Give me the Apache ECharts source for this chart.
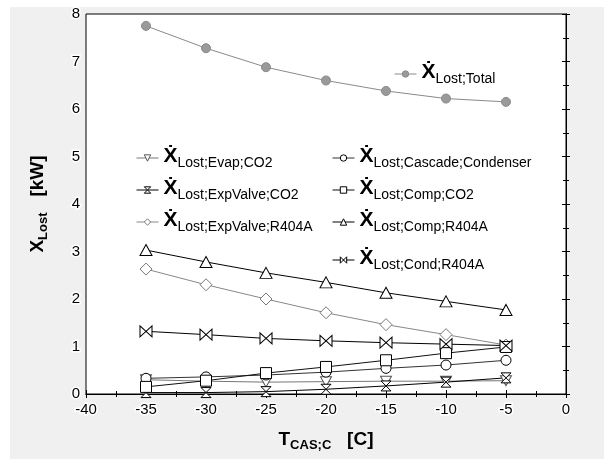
<!DOCTYPE html>
<html><head><meta charset="utf-8">
<script src="https://cdn.jsdelivr.net/npm/echarts@6/dist/echarts.min.js"></script>
<style>html,body{margin:0;padding:0;background:#fff}#c{width:604px;height:459px}</style>
</head><body><div id="c"></div>
<script>
// ---- data ----
const temps = [-35, -30, -25, -20, -15, -10, -5];
const xTicks = [-40, -35, -30, -25, -20, -15, -10, -5, 0];
const yTicks = [0, 1, 2, 3, 4, 5, 6, 7, 8];
const lostTotal = [7.75, 7.28, 6.88, 6.60, 6.38, 6.22, 6.15];
const lostCompR404A = [3.03, 2.78, 2.55, 2.35, 2.13, 1.95, 1.77];
const lostExpValveR404A = [2.63, 2.30, 2.00, 1.71, 1.46, 1.25, 1.03];
const lostCondR404A = [1.32, 1.25, 1.17, 1.12, 1.08, 1.05, 1.02];
const lostCompCO2 = [0.15, 0.28, 0.44, 0.57, 0.71, 0.86, 0.99];
const lostCascade = [0.33, 0.36, 0.40, 0.46, 0.54, 0.61, 0.71];
const lostEvapCO2 = [0.30, 0.27, 0.25, 0.26, 0.27, 0.27, 0.28];
const lostExpValveCO2 = [0.03, 0.03, 0.05, 0.10, 0.17, 0.25, 0.34];

const F = '"Liberation Sans", Arial, "DejaVu Sans", sans-serif';
const HOURGLASS = 'path://M0,0 L10,0 L0,10 L10,10 Z';
const BOWTIE = 'path://M0,0 L10,10 L10,0 L0,10 Z';

function pairs(vals) { return temps.map((t, i) => [t, vals[i]]); }
const styles = {};
function ser(name, vals, symbol, size, stroke, line, fill, extra) {
  styles[name] = { fill: fill, stroke: stroke, line: line };
  return Object.assign({
    name: name, type: 'line', data: pairs(vals), symbol: symbol, symbolSize: size,
    showSymbol: true, animation: false,
    lineStyle: { color: line, width: 1 },
    itemStyle: { color: fill, borderColor: stroke, borderWidth: 1 },
    emphasis: { disabled: true }
  }, extra || {});
}

const series = [
  ser('Lost;Total', lostTotal, 'circle', 9, '#8a8a8a', '#8a8a8a', '#9a9a9a'),
  ser('Lost;Evap;CO2', lostEvapCO2, 'triangle', [11, 10], '#555', '#777', '#fff', { symbolRotate: 180 }),
  ser('Lost;ExpValve;CO2', lostExpValveCO2, HOURGLASS, [10, 10], '#000', '#000', '#fff'),
  ser('Lost;ExpValve;R404A', lostExpValveR404A, 'diamond', [12, 12], '#777', '#888', '#fff'),
  ser('Lost;Cascade;Condenser', lostCascade, 'circle', 10, '#000', '#333', '#fff'),
  ser('Lost;Comp;CO2', lostCompCO2, 'rect', [11, 11], '#000', '#111', '#fff'),
  ser('Lost;Comp;R404A', lostCompR404A, 'triangle', [12, 11], '#000', '#000', '#fff'),
  ser('Lost;Cond;R404A', lostCondR404A, BOWTIE, [12, 11], '#000', '#000', '#fff')
];

const legendText = {
  color: '#000', fontFamily: F,
  rich: {
    x: { fontSize: 21, fontWeight: 'bold', fontFamily: F, color: '#000', lineHeight: 24, verticalAlign: 'top' },
    s: { fontSize: 14, fontFamily: F, color: '#000', lineHeight: 8, verticalAlign: 'bottom' }
  }
};
function legend(names, left, top, gap) {
  return {
    data: names.map(n => ({
      name: n,
      itemStyle: { color: styles[n].fill, borderColor: styles[n].stroke, borderWidth: 1 },
      lineStyle: { color: styles[n].line, width: 1 }
    })),
    orient: 'vertical', left: left, top: top, itemGap: gap,
    itemWidth: 22, itemHeight: 8, padding: 0, selectedMode: false,
    formatter: n => '{x|Ẋ}{s|' + n + '}', textStyle: legendText
  };
}

const tickLabel = { fontSize: 15, fontFamily: F, color: '#000', textBorderColor: '#fff', textBorderWidth: 3 };
const nameRich = {
  b: { fontSize: 19, fontWeight: 'bold', fontFamily: F, color: '#000', lineHeight: 22, verticalAlign: 'top' },
  s: { fontSize: 13, fontWeight: 'bold', fontFamily: F, color: '#000', lineHeight: 8, verticalAlign: 'bottom' }
};
function axisCommon(min, max, interval) {
  return {
    type: 'value', min: min, max: max, interval: interval,
    axisLine: { show: true, lineStyle: { color: '#000', width: 1 } },
    axisTick: { show: true, inside: true, length: 4, lineStyle: { color: '#000' } },
    minorTick: { show: true, splitNumber: 2, length: 3, lineStyle: { color: '#000' } },
    splitLine: { show: false }
  };
}

const option = {
  animation: false,
  backgroundColor: 'transparent',
  graphic: [{ type: 'rect', z: -100, silent: true, shape: { x: 10, y: 7, width: 594, height: 452 }, style: { fill: '#f0f0f0' } }],
  grid: { left: 86, right: 38, top: 14, bottom: 65, show: true, backgroundColor: '#fff', borderColor: '#000', borderWidth: 1 },
  xAxis: [
    Object.assign(axisCommon(xTicks[0], xTicks[xTicks.length - 1], 5), {
      position: 'bottom',
      axisLabel: Object.assign({ margin: 8 }, tickLabel),
      name: '{b|T}{s|CAS;C}{b|   [C]}', nameLocation: 'middle', nameGap: 36,
      nameTextStyle: { rich: nameRich }
    }),
    Object.assign(axisCommon(xTicks[0], xTicks[xTicks.length - 1], 5), { position: 'top', axisLabel: { show: false } })
  ],
  yAxis: [
    Object.assign(axisCommon(yTicks[0], yTicks[yTicks.length - 1], 1), {
      position: 'left',
      axisLabel: Object.assign({ margin: 6 }, tickLabel),
      name: '{b|X}{s|Lost}{b|   [kW]}', nameLocation: 'middle', nameGap: 36,
      nameTextStyle: { rich: nameRich }
    }),
    Object.assign(axisCommon(yTicks[0], yTicks[yTicks.length - 1], 1), { position: 'right', axisLabel: { show: false } })
  ],
  legend: [
    legend(['Lost;Total'], 394, 62, 10),
    legend(['Lost;Evap;CO2', 'Lost;ExpValve;CO2', 'Lost;ExpValve;R404A'], 136, 146, 8),
    legend(['Lost;Cascade;Condenser', 'Lost;Comp;CO2', 'Lost;Comp;R404A'], 332, 146, 8),
    legend(['Lost;Cond;R404A'], 332, 248, 8)
  ],
  series: series
};
echarts.init(document.getElementById('c')).setOption(option);
</script>
</body></html>
